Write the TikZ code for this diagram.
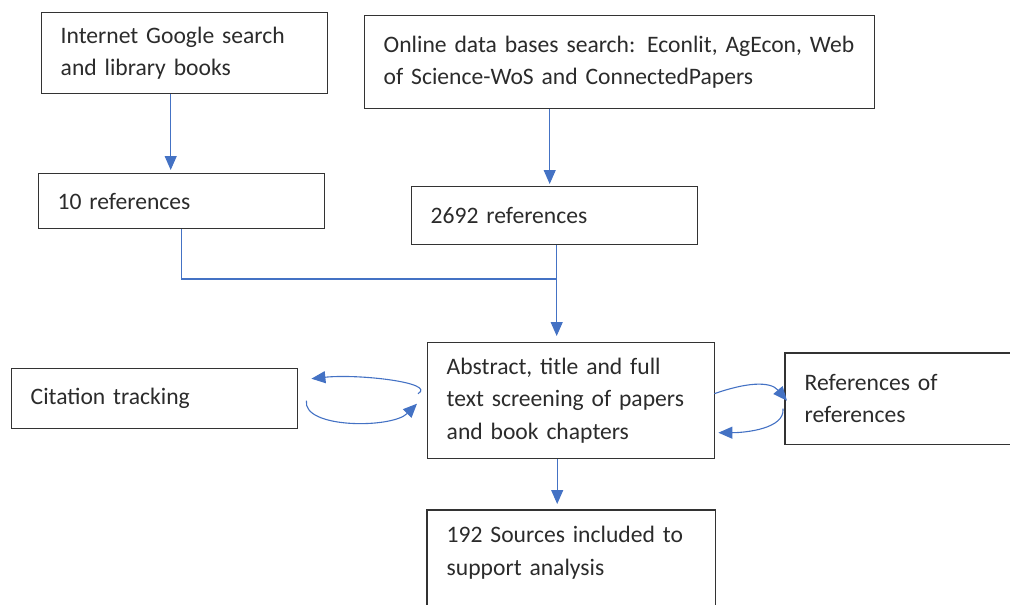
\documentclass[tikz,border=0pt]{standalone}
\usepackage{fontspec}
\setmainfont{Carlito}
\usetikzlibrary{arrows.meta,calc}
\definecolor{flowblue}{HTML}{4472C4}
\definecolor{boxgray}{HTML}{333333}
\definecolor{txtgray}{HTML}{2B2B2B}
\begin{document}
\begin{tikzpicture}[x=1pt,y=-1pt,
  box/.style={draw=boxgray,line width=1.4pt,anchor=north west,inner xsep=19pt,inner ysep=0pt,
    align=left,text=txtgray,font=\fontsize{23.6}{32.5}\selectfont},
  openbox/.style={box,draw=none},
  edge/.style={flowblue,line width=1.1pt},
  arr/.style={edge,-{Triangle[length=14pt,width=12pt]}},
]
\useasboundingbox (0,0) rectangle (1010,605);

% search sources
\node[box,minimum width=286pt,minimum height=81pt,text width=248pt] (A) at (41,12)
  {Internet Google search\\and library books};
\node[box,minimum width=510pt,minimum height=93pt,text width=472pt] (B) at (364,15)
  {Online data bases search: Econlit, AgEcon, Web\\of Science-WoS and ConnectedPapers};

% reference counts
\node[box,minimum width=286pt,minimum height=55pt,text width=248pt] (C) at (38,173)
  {10 references};
\node[box,minimum width=286pt,minimum height=58pt,text width=248pt] (D) at (411,186)
  {2692 references};

% screening step and side loops
\node[box,minimum width=287pt,minimum height=116pt,text width=249pt] (E) at (427,342)
  {Abstract, title and full\\text screening of papers\\and book chapters};
\node[box,minimum width=286pt,minimum height=60pt,text width=248pt] (F) at (11,368)
  {Citation tracking};
\node[openbox,minimum width=260pt,minimum height=90pt,text width=222pt] (G) at (785,353)
  {References of\\references};
\draw[boxgray,line width=1.4pt] (G.north east) -- (G.north west) -- (G.south west) -- (G.south east);

% result
\node[openbox,minimum width=287pt,minimum height=84pt,text width=249pt] (H) at (427,510)
  {192 Sources included to\\support analysis};
\draw[boxgray,line width=1.4pt] ([yshift=-20pt]H.south west) -- (H.north west) -- (H.north east) -- ([yshift=-20pt]H.south east);

% connectors
\draw[arr,shorten >=3pt] ([xshift=-14pt]A.south) -- ([xshift=-14pt]A.south |- C.north);
\draw[arr,shorten >=2pt] ([xshift=-5pt]D.north |- B.south) -- ([xshift=-5pt]D.north);
\coordinate (join) at ([xshift=2pt]D.south |- 0,279);
\draw[edge] (C.south) |- (join);
\draw[arr,shorten >=6pt] ([xshift=2pt]D.south) -- ([xshift=2pt]D.south |- E.north);
\draw[arr,shorten >=6pt] ([xshift=-14pt]E.south) -- ([xshift=-14pt]E.south |- H.north);

% citation tracking loop
\draw[arr] ($(E.west)+(-9,-7)$) .. controls ($(E.west)+(10,-18)$) and ($(F.east)+(60,-25)$) .. ($(F.east)+(13,-20)$);
\draw[arr] ($(F.east)+(8,2)$) .. controls ($(F.east)+(4,30)$) and ($(E.west)+(-35,28)$) .. ($(E.west)+(-10,3)$);

% references-of-references loop
\draw[arr] ($(E.east)+(-1,-7)$) .. controls ($(E.east)+(30,-18)$) and ($(G.west)+(-15,-18)$) .. ($(G.west)+(2,2)$);
\draw[arr] ($(G.west)+(-2,10)$) .. controls ($(G.west)+(0,30)$) and ($(E.east)+(30,32)$) .. ($(E.east)+(3,32)$);
\end{tikzpicture}
\end{document}
